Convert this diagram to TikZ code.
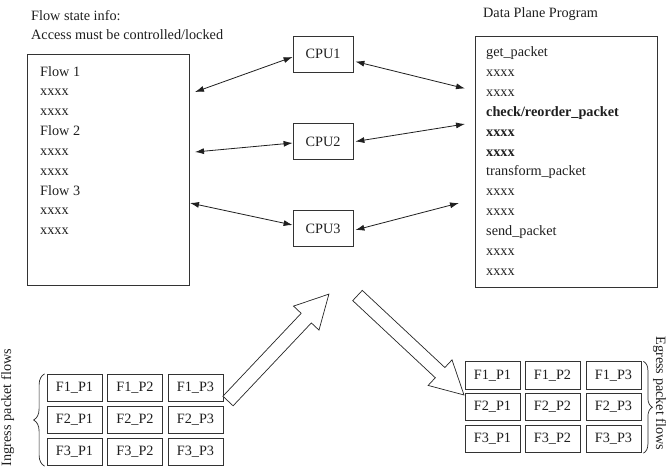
\documentclass[tikz,border=0pt]{standalone}
\usepackage{fontspec}
\setmainfont{Liberation Serif}
\usetikzlibrary{arrows.meta,decorations.pathreplacing,calc}
\begin{document}
\begin{tikzpicture}[x=1pt,y=-1pt,
  every node/.style={font=\fontsize{14.25}{17}\selectfont, text=black!88},
  box/.style={draw=black!80, line width=0.8pt, inner sep=0pt},
  cpubox/.style={box, minimum width=60pt, minimum height=36pt},
  pkt/.style={box, minimum width=55pt, minimum height=27.5pt},
  txt/.style={anchor=base west, inner sep=0pt},
  biarrow/.style={draw=black!88, line width=0.8pt, {Latex[length=9pt,width=6pt]}-{Latex[length=9pt,width=6pt]}},
  blockarrow/.style={draw=black!85, line width=0.7pt, fill=white, line join=miter},
  bracedeco/.style={draw=black!85, line width=0.7pt, decorate, decoration={brace, amplitude=#1}}
]
\useasboundingbox (0,0) rectangle (668,469);
\fill[white] (0,0) rectangle (668,469);

% titles
\node[txt] (title1) at (31,20) {Flow state info:};
\node[txt] (title2) at (31,39) {Access must be controlled/locked};
\node[txt] (title3) at (483,17.5) {Data Plane Program};

% main boxes
\node[box, minimum width=162pt, minimum height=231pt] (flowbox) at (108,169.5) {};
\node[box, minimum width=182pt, minimum height=251pt] (progbox) at (566,161.5) {};

\foreach \t [count=\i from 0] in {Flow 1, xxxx, xxxx, Flow 2, xxxx, xxxx, Flow 3, xxxx, xxxx}
  \node[txt] (fl\i) at (40,{76+19.85*\i}) {\t};

\foreach \t [count=\i from 0] in {get\_packet, xxxx, xxxx, \textbf{check/reorder\_packet}, \textbf{xxxx}, \textbf{xxxx}, transform\_packet, xxxx, xxxx, send\_packet, xxxx, xxxx}
  \node[txt] (pl\i) at (486,{56.5+19.9*\i}) {\t};

% CPUs
\node[cpubox] (cpu1) at (323,54) {CPU1};
\node[cpubox] (cpu2) at (323,141.5) {CPU2};
\node[cpubox] (cpu3) at (323,228.5) {CPU3};

% free ends of connectors
\coordinate (l1) at (195,92);
\coordinate (r1) at (465,88.5);
\coordinate (l2) at (195,152);
\coordinate (r2) at (465,124);
\coordinate (l3) at (190,203);
\coordinate (r3) at (459,203);

\draw[biarrow] (l1) -- ([yshift=-3pt]cpu1.west);
\draw[biarrow] ([xshift=2pt,yshift=-7.5pt]cpu1.east) -- (r1);
\draw[biarrow] (l2) -- ([yshift=-1.5pt]cpu2.west);
\draw[biarrow] ([xshift=2pt]cpu2.east) -- (r2);
\draw[biarrow] (l3) -- ([yshift=3.5pt]cpu3.west);
\draw[biarrow] ([xshift=2pt,yshift=-1.5pt]cpu3.east) -- (r3);

% packet grids
\foreach \r/\y in {1/388,2/420,3/452}
  \foreach \c/\x in {1/74.5,2/135,3/195.5}
    \node[pkt] (in\r\c) at (\x,\y) {F\r\_P\c};
\foreach \r/\y in {1/375.5,2/407,3/439}
  \foreach \c/\x in {1/492.5,2/552.5,3/613.5}
    \node[pkt] (out\r\c) at (\x,\y) {F\r\_P\c};

% braces
\draw[bracedeco=11pt] ([xshift=-2pt]in31.south west) -- ([xshift=-2pt]in11.north west);
\draw[bracedeco=9pt] ([xshift=2pt]out13.north east) -- ([xshift=2pt]out33.south east);

% rotated labels
\node[rotate=90, anchor=base, inner sep=0pt] (ing) at (11,407.5) {Ingress packet flows};
\node[rotate=-90, anchor=base, inner sep=0pt] (egr) at (656,393.5) {Egress packet flows};

% block arrows
\begin{scope}[shift={(228,401)}, rotate=46.65]
\draw[blockarrow] (0pt,-7pt) -- (114pt,-7pt) -- (114pt,-17.5pt) -- (147pt,0pt) -- (114pt,17.5pt) -- (114pt,7pt) -- (0pt,7pt) -- cycle;
\end{scope}
\begin{scope}[shift={(357.5,295.5)}, rotate=-43.05]
\draw[blockarrow] (0pt,-7pt) -- (113pt,-7pt) -- (113pt,-17.5pt) -- (145.7pt,0pt) -- (113pt,17.5pt) -- (113pt,7pt) -- (0pt,7pt) -- cycle;
\end{scope}
\end{tikzpicture}
\end{document}
